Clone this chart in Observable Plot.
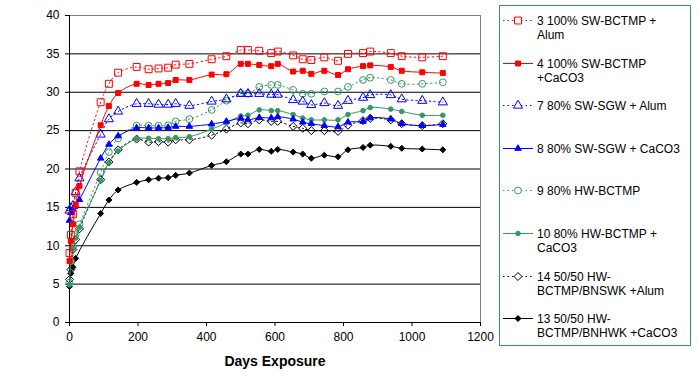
<!DOCTYPE html>
<html>
<head>
<meta charset="utf-8">
<script src="https://cdn.jsdelivr.net/npm/d3@7"></script>
<script src="https://cdn.jsdelivr.net/npm/@observablehq/plot@0.6"></script>
<style>
  body { margin: 0; background: white; }
  #chart { width: 698px; height: 385px; }
</style>
</head>
<body>
<div id="chart"></div>
<script>
// ---------- data ----------
const days = [0, 4, 10, 18, 29, 91, 115, 142, 196, 231, 260, 288, 310, 350, 415, 458,
  500, 521, 554, 589, 608, 653, 681, 706, 744, 784, 813, 857, 878, 938, 970, 1030, 1090];

const s3 = [9.05, 11.4, 14.1, 16.9, 19.7,
  28.7, 31.1, 32.55, 33.3, 33.0, 33.1, 33.2, 33.6, 33.7, 34.3, 34.7,
  35.5, 35.5, 35.4, 35.1, 35.3, 34.8, 34.3, 34.2, 34.55, 34.1, 35.0, 35.1, 35.3, 35.1, 34.7, 34.55, 34.7];
const s4 = [8.0, 10.65, 12.8, 15.3, 17.8,
  25.7, 28.2, 29.9, 31.1, 30.95, 31.1, 31.2, 31.6, 31.6, 32.3, 32.35,
  33.7, 33.7, 33.55, 33.4, 33.7, 32.7, 32.8, 32.4, 32.8, 32.25, 33.0, 33.4, 33.5, 33.3, 32.8, 32.6, 32.5];
const s7 = [14.6, 14.9, 15.2, 17.0, 18.8,
  24.5, 26.5, 27.5, 28.5, 28.5, 28.4, 28.4, 28.5, 28.25, 28.8, 29.1,
  29.8, 29.8, 29.8, 29.7, 29.7, 29.0, 28.8, 28.35, 28.6, 28.25, 28.9, 29.3, 29.65, 29.65, 29.1, 28.9, 28.7];
const s8 = [13.3, 14.3, 14.8, 15.2, 16.0,
  21.4, 23.2, 24.3, 25.35, 25.35, 25.35, 25.4, 25.55, 25.55, 25.85, 26.2,
  26.6, 26.4, 26.7, 26.65, 26.8, 26.5, 26.1, 25.9, 25.65, 25.5, 26.1, 26.2, 26.65, 26.5, 25.9, 25.65, 25.8];
const s9 = [5.2, 8.0, 9.8, 11.5, 12.8,
  19.55, 22.2, 24.0, 25.65, 25.65, 25.65, 25.7, 26.2, 26.5, 27.7, 28.9,
  29.9, 29.8, 30.7, 30.95, 30.95, 30.3, 29.8, 29.8, 30.1, 30.1, 30.7, 31.6, 31.9, 31.6, 31.1, 31.1, 31.3];
const s10 = [4.9, 8.0, 9.7, 11.0, 12.4,
  18.5, 20.8, 22.35, 23.95, 24.0, 23.95, 23.95, 24.1, 24.2, 25.2, 26.0,
  26.9, 27.0, 27.7, 27.6, 27.6, 27.1, 26.65, 26.4, 26.4, 26.4, 27.1, 27.6, 28.0, 27.8, 27.5, 27.0, 27.0];
const s14 = [5.6, 6.9, 9.5, 10.8, 12.2,
  18.6, 20.9, 22.5, 23.9, 23.5, 23.55, 23.5, 23.8, 23.8, 24.4, 25.2,
  26.0, 25.9, 26.4, 26.2, 26.2, 25.55, 25.3, 25.0, 25.0, 24.9, 25.7, 26.3, 26.6, 26.4, 25.9, 25.65, 25.9];
const s13 = [4.7, 6.4, 7.2, 8.35, null,
  14.2, 15.96, 17.26, 18.25, 18.6, 18.8, 18.87, 19.17, 19.47, 20.47, 20.95,
  21.95, 21.95, 22.55, 22.3, 22.55, 22.2, 21.95, 21.4, 21.8, 21.6, 22.5, 22.8, 23.1, 22.95, 22.7, 22.6, 22.5];

const seriesValues = [s3, s4, s7, s8, s9, s10, s14, s13];
const legendLabels = [
  ["3 100% SW-BCTMP +", "Alum"],
  ["4 100% SW-BCTMP", "+CaCO3"],
  ["7 80% SW-SGW + Alum"],
  ["8 80% SW-SGW + CaCO3"],
  ["9 80% HW-BCTMP"],
  ["10 80% HW-BCTMP +", "CaCO3"],
  ["14 50/50 HW-", "BCTMP/BNSWK +Alum"],
  ["13 50/50 HW-", "BCTMP/BNHWK +CaCO3"]
];
const xTicks = [0, 200, 400, 600, 800, 1000, 1200];
const yTicks = [0, 5, 10, 15, 20, 25, 30, 35, 40];
const gridValues = [5, 10, 15, 20, 25, 30, 35];

// ---------- styles ----------
const GREEN = "#339966";
const diamond2 = d3.symbolDiamond2 || {
  draw(ctx, size) {
    const r = Math.sqrt(size) * 0.62625;
    ctx.moveTo(0, -r); ctx.lineTo(r, 0); ctx.lineTo(0, r); ctx.lineTo(-r, 0); ctx.closePath();
  }
};
const colors  = ["#FF0000", "#FF0000", "#0000FF", "#0000FF", GREEN, GREEN, "#000000", "#000000"];
const dashes  = ["1.5,3", null, "1.5,3", null, "1.5,3", null, "1.5,3", null];
const symbols = [d3.symbolSquare, d3.symbolSquare, d3.symbolTriangle, d3.symbolTriangle,
                 d3.symbolCircle, d3.symbolCircle, diamond2, diamond2];
const radii   = [3.9, 2.8, 3.4, 2.4, 3.4, 2.3, 3.6, 2.7];
const filled  = [false, true, false, true, false, true, false, true];

const rowsFor = (vals) => days.map((d, i) => ({day: d, value: vals[i]})).filter(r => r.value != null);

const seriesMarks = seriesValues.flatMap((vals, k) => {
  const rows = rowsFor(vals);
  return [
    Plot.line(rows, {x: "day", y: "value", stroke: colors[k], strokeWidth: 1,
      strokeDasharray: dashes[k] || undefined, curve: "catmull-rom"}),
    Plot.dot(rows, {x: "day", y: "value", symbol: symbols[k], r: radii[k],
      stroke: colors[k], strokeWidth: 1, fill: filled[k] ? colors[k] : "none"})
  ];
});

const chart = Plot.plot({
  width: 698,
  height: 385,
  marginLeft: 69,
  marginRight: 218,
  marginTop: 15,
  marginBottom: 63,
  style: {fontFamily: "Arial, 'Liberation Sans', sans-serif", fontSize: "12px", background: "white", color: "black"},
  x: {domain: [0, 1200]},
  y: {domain: [0, 40]},
  marks: [
    Plot.ruleY(gridValues, {stroke: "black", strokeWidth: 1}),
    Plot.ruleY([40], {stroke: "#808080", strokeWidth: 1}),
    Plot.ruleX([1200], {stroke: "#808080", strokeWidth: 1}),
    Plot.axisY({ticks: yTicks, tickSize: 4, tickPadding: 6, label: null, fontSize: 12, tickFormat: d3.format("d")}),
    Plot.axisX({ticks: xTicks, tickSize: 4, tickPadding: 6, label: null, fontSize: 12, tickFormat: d3.format("d")}),
    Plot.ruleX([0], {stroke: "black"}),
    Plot.ruleY([0], {stroke: "black"}),
    ...seriesMarks.slice().reverse(),
    Plot.text(["Days Exposure"], {frameAnchor: "bottom", dy: 43, fontWeight: "bold", fontSize: 14})
  ]
});

// ---------- legend (drawn into the same SVG) ----------
const svg = d3.select(chart);
const lg = svg.append("g").attr("class", "legend").attr("text-anchor", "start");
lg.append("rect").attr("x", 499.5).attr("y", 5.5).attr("width", 191).attr("height", 340)
  .attr("fill", "white").attr("stroke", GREEN).attr("stroke-width", 1);
legendLabels.forEach((lines, k) => {
  const y = Math.round(20 + 42.6 * k) + 0.5;
  const g = lg.append("g");
  g.append("line").attr("x1", 503).attr("x2", 533).attr("y1", y).attr("y2", y)
    .attr("stroke", colors[k]).attr("stroke-width", 1)
    .attr("stroke-dasharray", dashes[k]);
  g.append("path")
    .attr("transform", `translate(518,${y})`)
    .attr("d", d3.symbol(symbols[k], Math.PI * radii[k] * radii[k])())
    .attr("stroke", colors[k]).attr("stroke-width", 1)
    .attr("fill", filled[k] ? colors[k] : "white");
  lines.forEach((t, j) => {
    g.append("text").attr("x", 537).attr("y", y + 4.5 + 14 * j)
      .attr("text-anchor", "start")
      .attr("font-size", 12).attr("fill", "black").text(t);
  });
});

document.getElementById("chart").appendChild(chart);
</script>
</body>
</html>
